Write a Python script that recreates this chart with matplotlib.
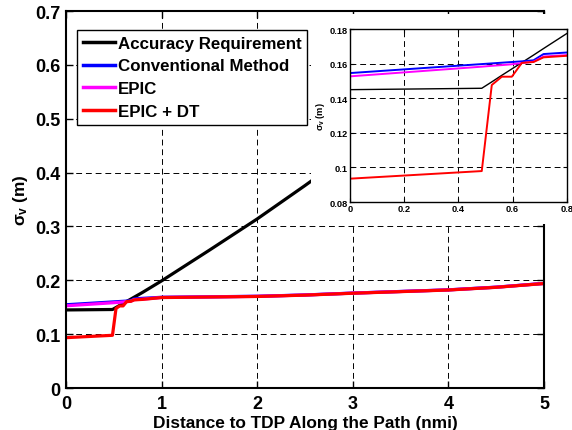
import matplotlib
matplotlib.use('Agg')
import matplotlib.pyplot as plt
from matplotlib.patches import Rectangle

# ========== data ==========
dist = [0, 0.486, 0.523, 0.56, 0.597, 0.634, 0.677, 0.714, 0.8,
        1.0, 1.5, 2.0, 2.5, 3.0, 3.5, 4.0, 4.5, 5.0]
accuracy = [0.145, 0.1458, 0.1495, 0.1533, 0.157, 0.1607, 0.165, 0.1688, 0.1775,
            0.199, 0.256, 0.314, 0.376, 0.44, 0.50, 0.56, 0.62, 0.68]
conventional = [0.1546, 0.1598, 0.1602, 0.1606, 0.161, 0.1614, 0.162, 0.1656, 0.1665,
                0.1685, 0.1694, 0.1704, 0.1728, 0.1763, 0.1793, 0.1823, 0.1873, 0.1943]
epic = [0.1527, 0.1583, 0.1588, 0.1592, 0.1597, 0.1604, 0.1612, 0.1642, 0.1650,
        0.1682, 0.1692, 0.1702, 0.1727, 0.1762, 0.1792, 0.1822, 0.1872, 0.1942]
epic_dt = [0.0935, 0.0979, 0.1477, 0.1525, 0.1525, 0.1605, 0.161, 0.1637, 0.1646,
           0.168, 0.169, 0.170, 0.1725, 0.176, 0.179, 0.182, 0.187, 0.194]

labels = ['Accuracy Requirement', 'Conventional Method', 'EPIC', 'EPIC + DT']
colors = ['black', 'blue', 'magenta', 'red']
series = [accuracy, conventional, epic, epic_dt]

main_xticks = [0, 1, 2, 3, 4, 5]
main_yticks = [0, 0.1, 0.2, 0.3, 0.4, 0.5, 0.6, 0.7]
main_yticklabels = ['0', '0.1', '0.2', '0.3', '0.4', '0.5', '0.6', '0.7']
inset_xticks = [0, 0.2, 0.4, 0.6, 0.8]
inset_xticklabels = ['0', '0.2', '0.4', '0.6', '0.8']
inset_yticks = [0.08, 0.1, 0.12, 0.14, 0.16, 0.18]
inset_yticklabels = ['0.08', '0.1', '0.12', '0.14', '0.16', '0.18']

# ========== style ==========
plt.rcParams['font.family'] = ['Liberation Sans', 'DejaVu Sans']
plt.rcParams['font.weight'] = 'bold'
plt.rcParams['mathtext.fontset'] = 'custom'
plt.rcParams['mathtext.rm'] = 'Liberation Sans:bold'
plt.rcParams['mathtext.it'] = 'Liberation Sans:bold'
plt.rcParams['mathtext.bf'] = 'Liberation Sans:bold'

grid_style = dict(color='black', linestyle=(0, (6, 4)), linewidth=0.7)

fig = plt.figure(figsize=(5.72, 4.31), dpi=100)

# ========== main axes ==========
ax = fig.add_axes([0.1154, 0.0974, 0.8356, 0.8746])
for y, c, lab in zip(series, colors, labels):
    ax.plot(dist, y, color=c, linewidth=2.3, label=lab)
ax.set_xlim(0, 5)
ax.set_ylim(0, 0.7)
ax.set_xticks(main_xticks)
ax.set_yticks(main_yticks)
ax.set_yticklabels(main_yticklabels)
ax.tick_params(direction='in', top=True, right=True, labelsize=13, pad=4, length=5, width=1)
ax.tick_params(axis='x', pad=5)
ax.grid(True, **grid_style)
for s in ax.spines.values():
    s.set_linewidth(1.5)
ax.set_xlabel('Distance to TDP Along the Path (nmi)', fontsize=12.4, fontweight='bold')
ax.xaxis.set_label_coords(0.5, -0.071)
ax.set_ylabel(r'$\sigma_\mathrm{v}$ (m)', fontsize=12.4, fontweight='bold', labelpad=4)

leg = ax.legend(loc='upper left', bbox_to_anchor=(0.023, 0.95), borderaxespad=0,
                fontsize=12.2, handlelength=1.9, handletextpad=0.15, labelspacing=0.45,
                borderpad=0.35, fancybox=False, framealpha=1, edgecolor='black')
leg.get_frame().set_linewidth(1.0)
leg.set_zorder(10)
for line in leg.get_lines():
    line.set_linewidth(2.5)

# white background of the inset figure
fig.patches.append(Rectangle((0.5437, 0.478), 0.4563, 0.487, transform=fig.transFigure,
                             facecolor='white', edgecolor='none', zorder=2))

# ========== inset ==========
axi = fig.add_axes([0.612, 0.529, 0.379, 0.401], zorder=5)
for y, c in zip(series, colors):
    axi.plot(dist, y, color=c, linewidth=1.4 if c != 'black' else 1.0)
axi.set_xlim(0, 0.8)
axi.set_ylim(0.08, 0.18)
axi.set_xticks(inset_xticks)
axi.set_xticklabels(inset_xticklabels)
axi.set_yticks(inset_yticks)
axi.set_yticklabels(inset_yticklabels)
axi.tick_params(direction='in', top=True, right=True, labelsize=6.7, pad=1.5, length=3, width=0.8)
axi.grid(True, **grid_style)
for s in axi.spines.values():
    s.set_linewidth(1.0)
axi.set_ylabel(r'$\sigma_\mathrm{v}$ (m)', fontsize=6.7, fontweight='bold', labelpad=2)

fig.savefig('out.png', dpi=100)
